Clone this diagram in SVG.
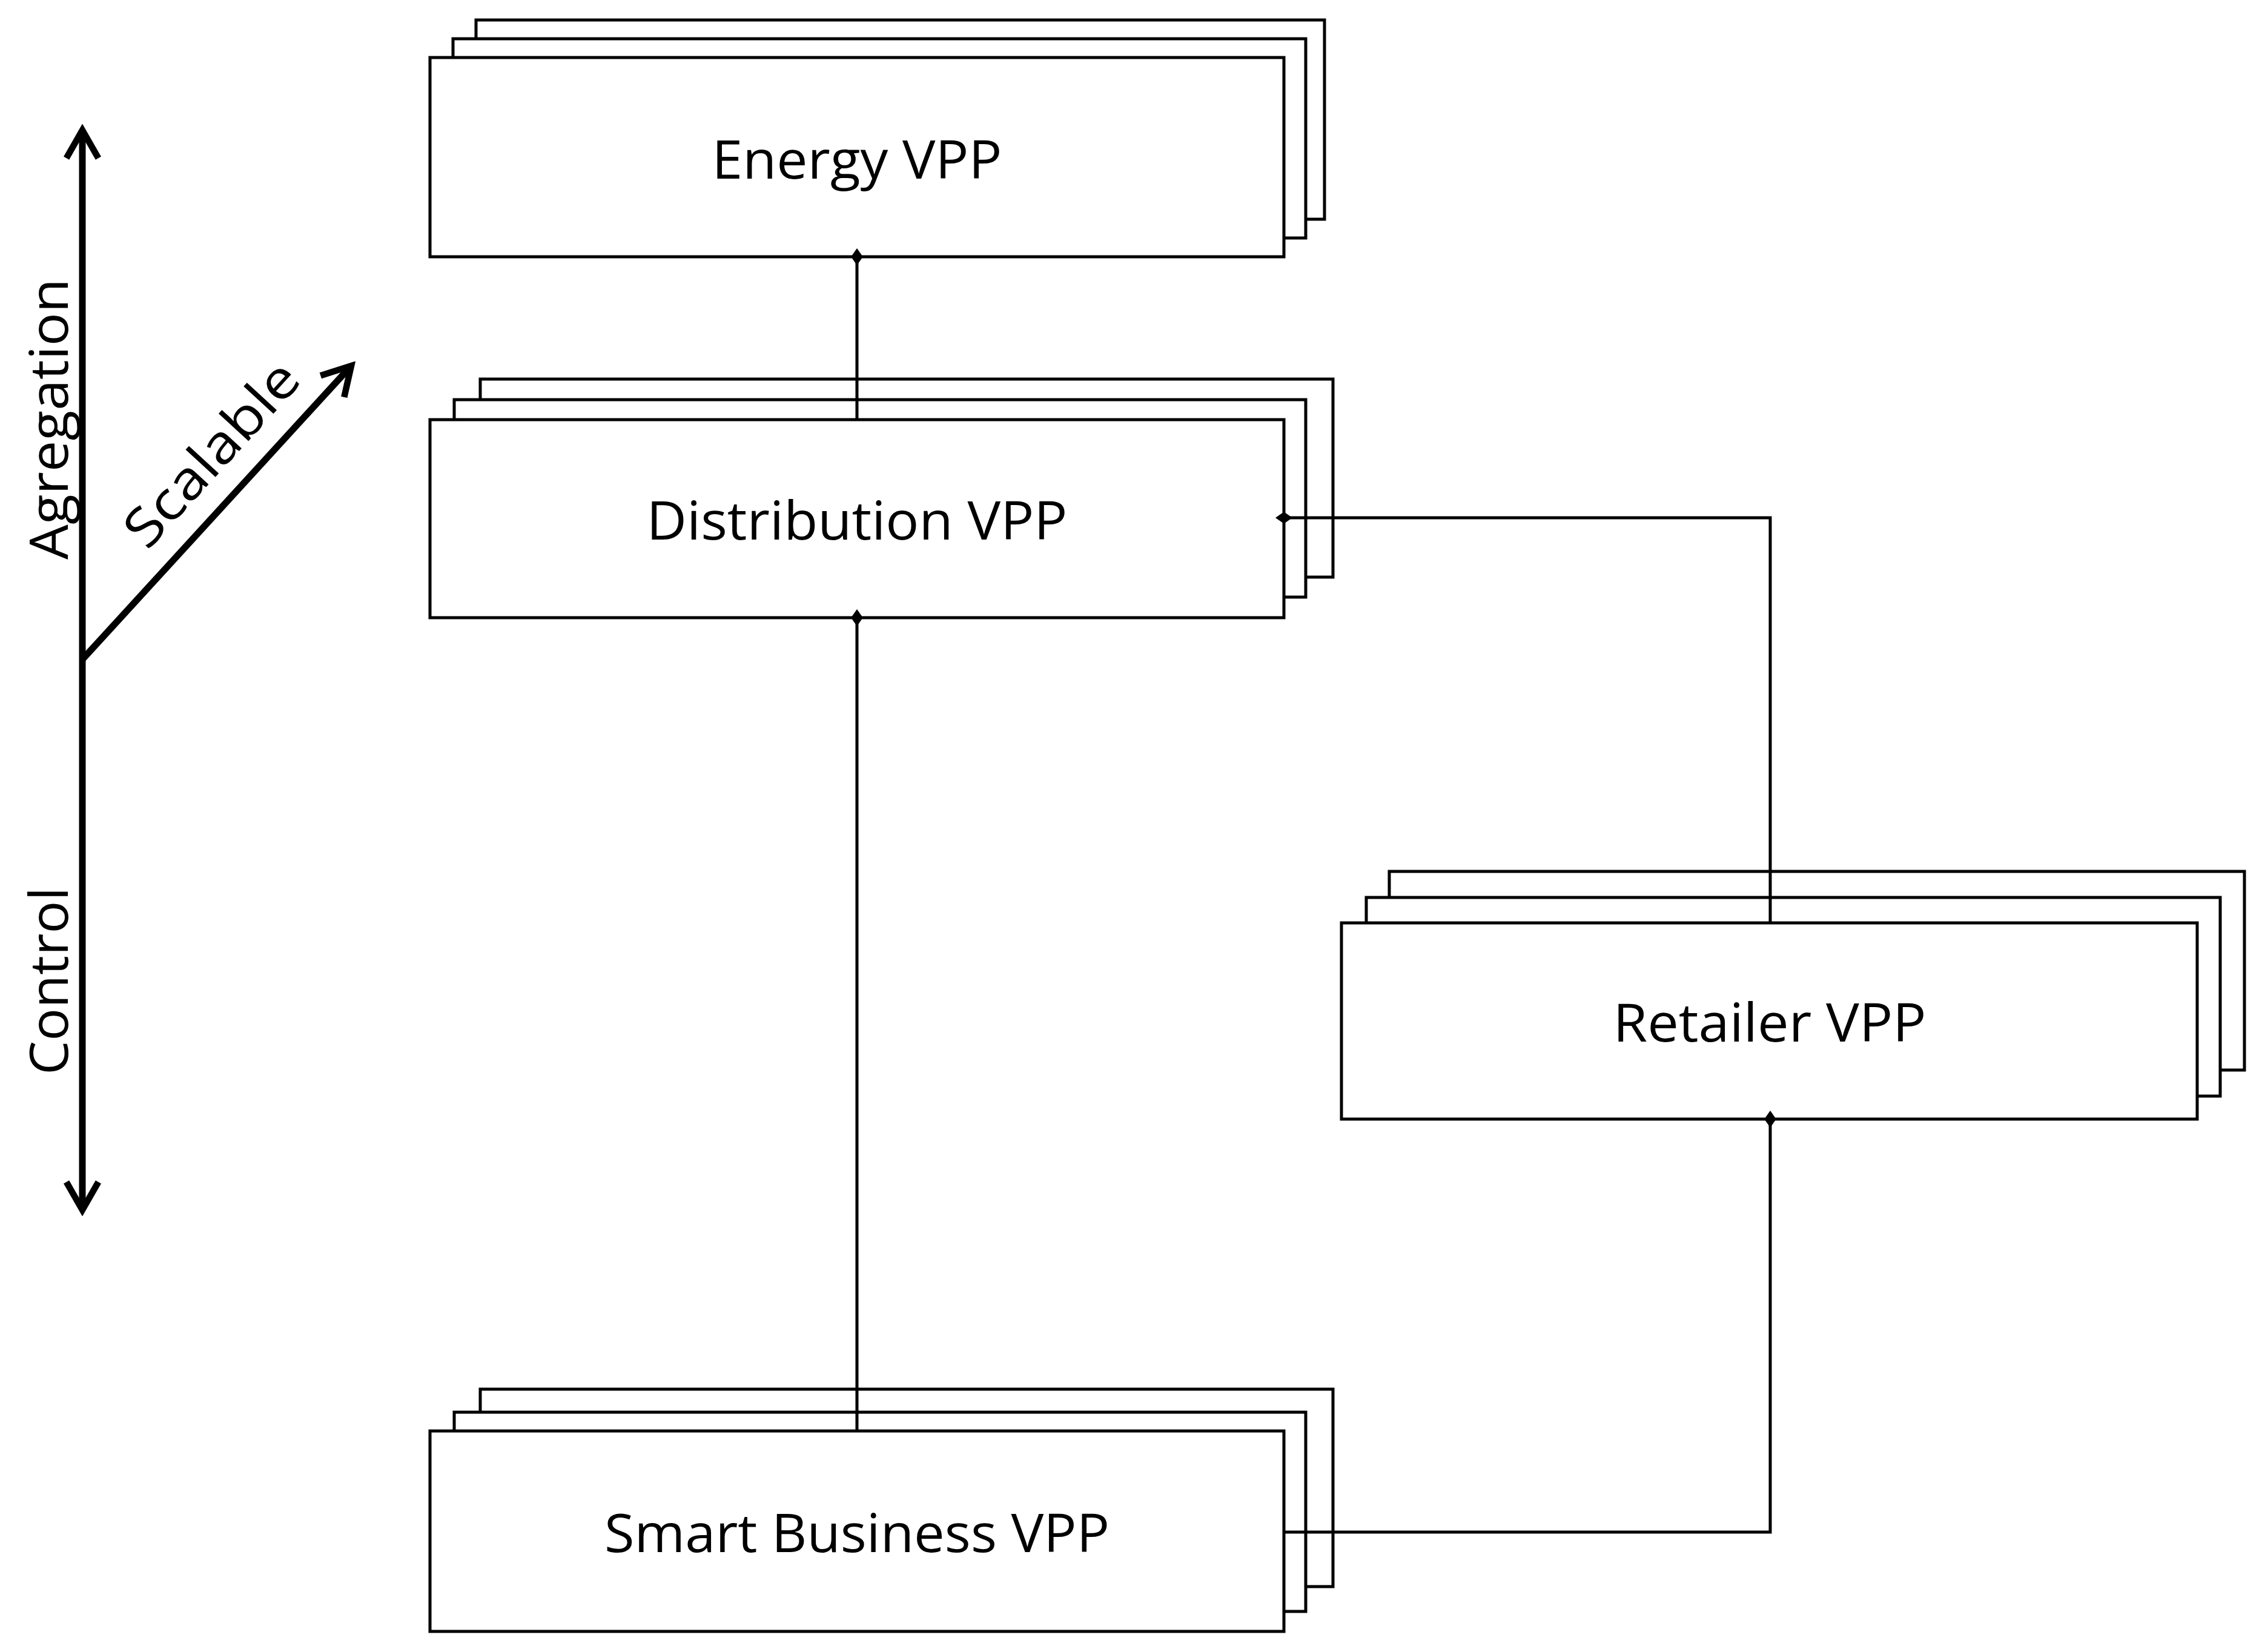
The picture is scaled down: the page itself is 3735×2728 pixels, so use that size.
<svg xmlns="http://www.w3.org/2000/svg" width="3735" height="2728" viewBox="0 0 3735 2728">
<style>
rect{fill:#fff;stroke:#000;stroke-width:5}
.lbl{font-family:"Open Sans","Liberation Sans",sans-serif;font-size:88px;text-anchor:middle;fill:#000}
.ax{fill:none;stroke:#000;stroke-width:11}
.cn{fill:none;stroke:#000;stroke-width:5}
</style>
<defs>
<marker id="chev" viewBox="0 0 20 20" refX="17" refY="10" markerWidth="6" markerHeight="6" orient="auto-start-reverse" markerUnits="strokeWidth"><path d="M3,2 L17,10 L3,18" fill="none" stroke="#000" stroke-width="3.2"/></marker>
<marker id="dia" viewBox="0 0 20 20" refX="10" refY="10" markerWidth="28" markerHeight="28" orient="auto" markerUnits="userSpaceOnUse"><path d="M0,10 L10,3 L20,10 L10,17Z" fill="#000"/></marker>
</defs>
<g id="axes">
<line class="ax" x1="136" y1="215" x2="136" y2="1998" marker-start="url(#chev)" marker-end="url(#chev)"/>
<line class="ax" x1="136" y1="1089" x2="580" y2="604" marker-end="url(#chev)"/>
<text class="lbl" font-size="84" transform="translate(112,692) rotate(-90)" textLength="464" lengthAdjust="spacingAndGlyphs">Agregation</text>
<text class="lbl" font-size="84" transform="translate(112,1620) rotate(-90)" textLength="310" lengthAdjust="spacingAndGlyphs">Control</text>
<text class="lbl" font-size="84" transform="translate(372,770) rotate(-47.5)" textLength="381" lengthAdjust="spacingAndGlyphs">Scalable</text>
</g>
<g id="energy">
<rect x="786" y="33" width="1401" height="329"/><rect x="748" y="64" width="1408" height="329"/><rect x="710" y="95" width="1410" height="329"/>
<text class="lbl" x="1415" y="295" textLength="479" lengthAdjust="spacingAndGlyphs">Energy VPP</text>
</g>
<g id="distribution">
<rect x="793" y="626" width="1408" height="327"/><rect x="750" y="660" width="1406" height="326"/><rect x="710" y="693" width="1410" height="327"/>
<text class="lbl" x="1415" y="891" textLength="695" lengthAdjust="spacingAndGlyphs">Distribution VPP</text>
</g>
<g id="retailer">
<rect x="2294" y="1439" width="1412" height="328"/><rect x="2256" y="1482" width="1410" height="328"/><rect x="2215" y="1524" width="1413" height="324"/>
<text class="lbl" x="2922" y="1720" textLength="517" lengthAdjust="spacingAndGlyphs">Retailer VPP</text>
</g>
<g id="smart">
<rect x="793" y="2294" width="1408" height="326"/><rect x="750" y="2332" width="1406" height="329"/><rect x="710" y="2363" width="1410" height="331"/>
<text class="lbl" x="1415" y="2563" textLength="834" lengthAdjust="spacingAndGlyphs">Smart Business VPP</text>
</g>
<g id="connectors">
<path class="cn" d="M1415,424 L1415,693" marker-start="url(#dia)"/>
<path class="cn" d="M2120,855 L2923,855 L2923,1524" marker-start="url(#dia)"/>
<path class="cn" d="M1415,1020 L1415,2363" marker-start="url(#dia)"/>
<path class="cn" d="M2923,1848 L2923,2530 L2120,2530" marker-start="url(#dia)"/>
</g>
</svg>
